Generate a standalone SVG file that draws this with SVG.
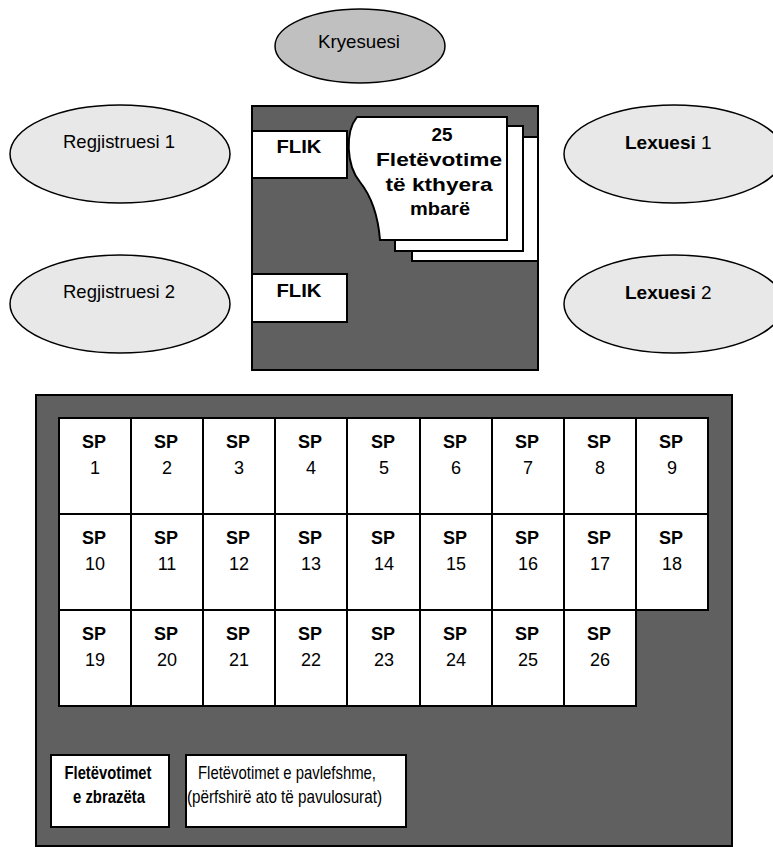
<svg xmlns="http://www.w3.org/2000/svg" width="773" height="847" viewBox="0 0 773 847">
<style>
.ell{stroke:#000;stroke-width:1.5}
.lt{fill:#e8e8e8}
.dk{fill:#c0c0c0}
.panel{fill:#606060;stroke:#000;stroke-width:2}
.wb{fill:#fff;stroke:#000;stroke-width:2}
text{font-family:"Liberation Sans",Arial,sans-serif;fill:#000}
.r{font-size:19px}
.b{font-size:19px;font-weight:bold}
.c{text-anchor:middle}
.sp{font-size:18px;font-weight:bold;text-anchor:middle}
.num{font-size:18px;text-anchor:middle}
</style>
<rect width="773" height="847" fill="#fff"/>
<g id="kryesuesi">
<ellipse class="ell dk" cx="360" cy="46" rx="85" ry="37"/>
<text class="r c" x="359" y="48" textLength="82" lengthAdjust="spacingAndGlyphs">Kryesuesi</text>
</g>
<g id="regjistruesi1">
<ellipse class="ell lt" cx="120" cy="154" rx="110" ry="49"/>
<text class="r" x="63" y="148" textLength="112" lengthAdjust="spacingAndGlyphs">Regjistruesi 1</text>
</g>
<g id="regjistruesi2">
<ellipse class="ell lt" cx="120" cy="304" rx="110" ry="49"/>
<text class="r" x="63" y="298" textLength="112" lengthAdjust="spacingAndGlyphs">Regjistruesi 2</text>
</g>
<g id="lexuesi1">
<ellipse class="ell lt" cx="674" cy="154" rx="110" ry="49"/>
<text class="r" x="625" y="149"><tspan font-weight="bold">Lexuesi</tspan> 1</text>
</g>
<g id="lexuesi2">
<ellipse class="ell lt" cx="674" cy="304" rx="110" ry="49"/>
<text class="r" x="625" y="299"><tspan font-weight="bold">Lexuesi</tspan> 2</text>
</g>
<g id="tavolina">
<rect class="panel" x="252" y="106" width="286" height="264"/>
</g>
<g id="flik1">
<rect class="wb" x="252" y="131" width="95" height="47"/>
<text class="b c" x="299" y="153" textLength="45" lengthAdjust="spacingAndGlyphs">FLIK</text>
</g>
<g id="flik2">
<rect class="wb" x="252" y="274" width="95" height="48"/>
<text class="b c" x="299" y="297" textLength="45" lengthAdjust="spacingAndGlyphs">FLIK</text>
</g>
<g id="fletevotime">
<rect class="wb" x="412" y="137" width="126" height="124"/>
<rect class="wb" x="395" y="126" width="128" height="125"/>
<path class="wb" d="M357,117 L507,117 L507,240 L380,240 C378,215 372,197 360,182 C346,165 345,132 357,117 Z"/>
<text class="b c" x="442" y="141" textLength="21" lengthAdjust="spacingAndGlyphs">25</text>
<text class="b c" x="439" y="166" textLength="126" lengthAdjust="spacingAndGlyphs">Fletëvotime</text>
<text class="b c" x="439" y="191" textLength="107" lengthAdjust="spacingAndGlyphs">të kthyera</text>
<text class="b c" x="440" y="215" textLength="60" lengthAdjust="spacingAndGlyphs">mbarë</text>
</g>
<g id="zona">
<rect class="panel" x="36" y="395" width="696" height="451"/>
</g>
<g id="sp">
<g id="sp1"><rect class="wb" x="59" y="418" width="72" height="96"/><text class="sp" x="94" y="448">SP</text><text class="num" x="95" y="474">1</text></g>
<g id="sp2"><rect class="wb" x="131" y="418" width="72" height="96"/><text class="sp" x="166" y="448">SP</text><text class="num" x="167" y="474">2</text></g>
<g id="sp3"><rect class="wb" x="203" y="418" width="72" height="96"/><text class="sp" x="238" y="448">SP</text><text class="num" x="239" y="474">3</text></g>
<g id="sp4"><rect class="wb" x="275" y="418" width="72" height="96"/><text class="sp" x="310" y="448">SP</text><text class="num" x="311" y="474">4</text></g>
<g id="sp5"><rect class="wb" x="347" y="418" width="73" height="96"/><text class="sp" x="383" y="448">SP</text><text class="num" x="384" y="474">5</text></g>
<g id="sp6"><rect class="wb" x="420" y="418" width="72" height="96"/><text class="sp" x="455" y="448">SP</text><text class="num" x="456" y="474">6</text></g>
<g id="sp7"><rect class="wb" x="492" y="418" width="72" height="96"/><text class="sp" x="527" y="448">SP</text><text class="num" x="528" y="474">7</text></g>
<g id="sp8"><rect class="wb" x="564" y="418" width="72" height="96"/><text class="sp" x="599" y="448">SP</text><text class="num" x="600" y="474">8</text></g>
<g id="sp9"><rect class="wb" x="636" y="418" width="72" height="96"/><text class="sp" x="671" y="448">SP</text><text class="num" x="672" y="474">9</text></g>
<g id="sp10"><rect class="wb" x="59" y="514" width="72" height="96"/><text class="sp" x="94" y="544">SP</text><text class="num" x="95" y="570">10</text></g>
<g id="sp11"><rect class="wb" x="131" y="514" width="72" height="96"/><text class="sp" x="166" y="544">SP</text><text class="num" x="167" y="570">11</text></g>
<g id="sp12"><rect class="wb" x="203" y="514" width="72" height="96"/><text class="sp" x="238" y="544">SP</text><text class="num" x="239" y="570">12</text></g>
<g id="sp13"><rect class="wb" x="275" y="514" width="72" height="96"/><text class="sp" x="310" y="544">SP</text><text class="num" x="311" y="570">13</text></g>
<g id="sp14"><rect class="wb" x="347" y="514" width="73" height="96"/><text class="sp" x="383" y="544">SP</text><text class="num" x="384" y="570">14</text></g>
<g id="sp15"><rect class="wb" x="420" y="514" width="72" height="96"/><text class="sp" x="455" y="544">SP</text><text class="num" x="456" y="570">15</text></g>
<g id="sp16"><rect class="wb" x="492" y="514" width="72" height="96"/><text class="sp" x="527" y="544">SP</text><text class="num" x="528" y="570">16</text></g>
<g id="sp17"><rect class="wb" x="564" y="514" width="72" height="96"/><text class="sp" x="599" y="544">SP</text><text class="num" x="600" y="570">17</text></g>
<g id="sp18"><rect class="wb" x="636" y="514" width="72" height="96"/><text class="sp" x="671" y="544">SP</text><text class="num" x="672" y="570">18</text></g>
<g id="sp19"><rect class="wb" x="59" y="610" width="72" height="96"/><text class="sp" x="94" y="640">SP</text><text class="num" x="95" y="666">19</text></g>
<g id="sp20"><rect class="wb" x="131" y="610" width="72" height="96"/><text class="sp" x="166" y="640">SP</text><text class="num" x="167" y="666">20</text></g>
<g id="sp21"><rect class="wb" x="203" y="610" width="72" height="96"/><text class="sp" x="238" y="640">SP</text><text class="num" x="239" y="666">21</text></g>
<g id="sp22"><rect class="wb" x="275" y="610" width="72" height="96"/><text class="sp" x="310" y="640">SP</text><text class="num" x="311" y="666">22</text></g>
<g id="sp23"><rect class="wb" x="347" y="610" width="73" height="96"/><text class="sp" x="383" y="640">SP</text><text class="num" x="384" y="666">23</text></g>
<g id="sp24"><rect class="wb" x="420" y="610" width="72" height="96"/><text class="sp" x="455" y="640">SP</text><text class="num" x="456" y="666">24</text></g>
<g id="sp25"><rect class="wb" x="492" y="610" width="72" height="96"/><text class="sp" x="527" y="640">SP</text><text class="num" x="528" y="666">25</text></g>
<g id="sp26"><rect class="wb" x="564" y="610" width="72" height="96"/><text class="sp" x="599" y="640">SP</text><text class="num" x="600" y="666">26</text></g>
</g>
<g id="zbrazeta">
<rect class="wb" x="51" y="755" width="118" height="72"/>
<text class="b c" x="108" y="779" font-size="18" textLength="87" lengthAdjust="spacingAndGlyphs">Fletëvotimet</text>
<text class="b c" x="109" y="803" font-size="18" textLength="72" lengthAdjust="spacingAndGlyphs">e zbrazëta</text>
</g>
<g id="pavlefshme">
<rect class="wb" x="186" y="755" width="220" height="72"/>
<text class="r" x="198" y="779" textLength="178" lengthAdjust="spacingAndGlyphs">Fletëvotimet e pavlefshme,</text>
<text class="r" x="187" y="803" textLength="195" lengthAdjust="spacingAndGlyphs">(përfshirë ato të pavulosurat)</text>
</g>
<g id="connectors"></g>
</svg>
